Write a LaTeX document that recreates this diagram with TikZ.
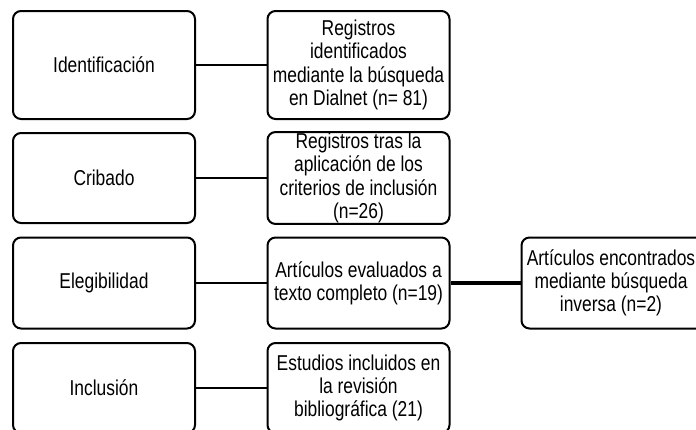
\documentclass[tikz,border=0pt]{standalone}
\usepackage{fontspec}
\setmainfont{Liberation Sans}[FakeStretch=0.81]
\begin{document}
\begin{tikzpicture}[x=1pt,y=-1pt,
  txt/.style={font=\fontsize{21.5}{23.3}\selectfont, align=center},
  boxline/.style={draw=black, line width=2pt, rounded corners=8pt},
  box/.style={txt, boxline, fill=white, inner sep=1pt},
  leftbox/.style={box, minimum width=182pt},
  midbox/.style={box, minimum width=182pt},
  link/.style={draw=black, line width=2pt},
  thicklink/.style={draw=black, line width=4pt}]
\useasboundingbox (0,0) rectangle (696,429);
\clip (0,0) rectangle (696,429);
% left column
\node[leftbox, minimum height=108pt] (l1) at (104,65) {Identificación};
\node[leftbox, minimum height=90pt] (l2) at (104,178) {Cribado};
\node[leftbox, minimum height=91pt] (l3) at (104,283) {Elegibilidad};
\node[leftbox, minimum height=90pt] (l4) at (104,388) {Inclusión};
% middle column
\node[midbox, minimum height=108pt] (m1) at (358.5,65) {Registros\\identificados\\mediante la búsqueda\\en Dialnet (n= 81)};
\node[midbox, minimum height=90pt] (m2) at (358.5,178) {Registros tras la\\aplicación de los\\criterios de inclusión\\(n=26)};
\node[midbox, minimum height=91pt] (m3) at (358.5,283) {Artículos evaluados a\\texto completo (n=19)};
\node[midbox, minimum height=90pt] (m4) at (358.5,388) {Estudios incluidos en\\la revisión\\bibliográfica (21)};
% right box: open to the right, it runs past the edge of the picture
\draw[boxline] (697,237.5) -| (521.5,328.5) -- (697,328.5);
\coordinate (r3w) at (521.5,283);
\node[txt, inner sep=0pt] (r3) at (611,283) {Artículos encontrados\\mediante búsqueda\\inversa (n=2)};
% connectors
\draw[link] (l1.east) -- (m1.west);
\draw[link] (l2.east) -- (m2.west);
\draw[link] (l3.east) -- (m3.west);
\draw[link] (l4.east) -- (m4.west);
\draw[thicklink] (m3.east) -- (r3w);
\end{tikzpicture}
\end{document}
